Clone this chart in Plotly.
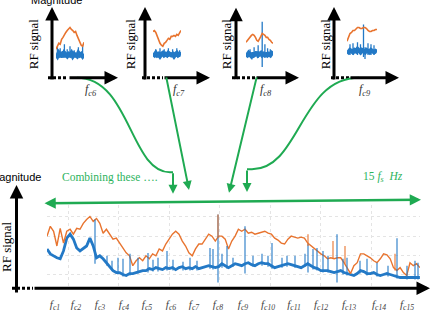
import plotly.graph_objects as go

W, H = 432, 312
ORANGE = '#E8742F'
BLUE = '#2379C6'
GREEN = '#1FAA52'
GREEN_TXT = '#2DB35D'

# ---------------- main spectrum (15 sub-bands), arbitrary magnitude units
main_step = 3.3  # frequency-bin spacing
orange_main = [60, 70, 65, 50, 68, 53, 65, 67, 62, 68,
               67, 73, 77, 80, 75, 78, 73, 63, 67, 62,
               57, 58, 53, 48, 43, 40, 30, 35, 38, 35,
               40, 37, 42, 40, 47, 45, 52, 57, 62, 65,
               62, 55, 50, 43, 40, 47, 52, 52, 57, 62,
               60, 55, 60, 60, 57, 47, 55, 60, 67, 65,
               67, 63, 64, 62, 63, 64, 65, 63, 62, 58,
               56, 53, 52, 57, 60, 59, 58, 59, 58, 53,
               50, 47, 45, 42, 40, 37, 38, 37, 38, 38,
               33, 28, 22, 30, 33, 42, 42, 40, 38, 35,
               33, 37, 42, 41, 37, 28, 25, 28, 23, 20,
               33, 30, 32, 28]
blue_main = [47, 42, 40, 38, 37, 45, 58, 62, 57, 48,
             45, 48, 50, 58, 50, 38, 40, 37, 33, 28,
             25, 23, 23, 21, 20, 22, 22, 23, 24, 25,
             25, 27, 26, 28, 27, 26, 28, 27, 28, 26,
             28, 29, 27, 28, 27, 29, 27, 28, 29, 30,
             29, 28, 29, 32, 30, 28, 30, 32, 31, 30,
             32, 33, 31, 30, 32, 33, 32, 32, 30, 28,
             29, 30, 31, 32, 31, 30, 29, 28, 30, 32,
             30, 28, 27, 25, 25, 25, 24, 23, 24, 25,
             23, 22, 21, 20, 22, 25, 24, 22, 22, 23,
             21, 20, 21, 22, 21, 20, 19, 18, 18, 18,
             18, 18, 18, 18]
blue_spike_f = [48, 60, 65, 71, 76, 83, 91, 101, 106, 111, 120, 126, 136, 143, 150,
                163, 166, 171, 175, 180, 186, 198, 206, 215, 221, 225, 235, 240, 248,
                258, 261, 266, 270, 276, 281, 290, 296, 300, 313, 320, 330, 341, 350,
                360, 368, 371]
blue_spike_top = [77, 40, 35, 38, 37, 42, 38, 43, 36, 38, 45, 36, 34, 38, 35,
                  48, 47, 82, 42, 50, 38, 70, 40, 42, 40, 53, 38, 40, 40,
                  42, 52, 47, 48, 45, 40, 62, 37, 38, 35, 37, 33, 30, 58,
                  30, 35, 33]
blue_spike_bot = [32, 30, 25, 21, 19, 20, 22, 23, 24, 24, 25, 25, 25, 25, 25,
                  27, 26, 13, 28, 27, 29, 22, 29, 30, 29, 27, 28, 29, 28,
                  29, 23, 26, 25, 23, 23, 13, 21, 20, 22, 20, 19, 19, 17,
                  16, 16, 16]
orange_spike_f = [171, 261, 286, 298, 348]
orange_spike_top = [82, 62, 55, 50, 42]
orange_spike_bot = [58, 50, 37, 32, 25]

fc_labels = ['c1', 'c2', 'c3', 'c4', 'c5', 'c6', 'c7', 'c8', 'c9', 'c10',
             'c11', 'c12', 'c13', 'c14', 'c15']
fc_pos = [8, 29, 53, 77, 100, 124, 147, 171, 196, 221, 247, 274, 302, 332, 360]
grid_f = [21, 71.5, 122, 172.5, 223, 273.5, 324, 374]
grid_mag = [21, 40.5, 60, 79.5]

# ---------------- zoomed sub-band insets (fc6 .. fc9)
fc6_orange = [20, 24, 26, 25, 30, 32, 35, 37, 39, 41, 42, 40, 39, 37, 38, 34, 31, 27, 24, 23, 27]
fc6_blue = [15, 13, 16, 14, 15, 12, 16, 14, 13, 15, 14, 16, 13, 15, 14, 13, 16, 14, 15, 13, 15]
fc6_spk_i = [1, 3, 6, 8, 10, 13, 16, 19]
fc6_spk_top = [22, 21, 25, 20, 23, 19, 22, 24]
fc6_spk_bot = [12, 12, 12, 12, 12, 12, 12, 12]

fc7_orange = [38, 39, 37, 33, 29, 26, 24, 23, 26, 27, 29, 31, 30, 33, 33, 34, 33, 35, 34, 36, 39]
fc7_blue = [15, 14, 16, 14, 15, 13, 15, 16, 14, 15, 14, 16, 15, 14, 15, 13, 15, 16, 14, 15, 14]
fc7_spk_i = [2, 5, 8, 11, 14, 17, 19]
fc7_spk_top = [20, 21, 20, 21, 20, 21, 19]
fc7_spk_bot = [12, 12, 12, 12, 12, 12, 12]

fc8_orange = [27, 29, 31, 32, 34, 35, 34, 32, 29, 28, 30, 33, 36, 35, 34, 32, 32, 30, 29, 27, 26]
fc8_blue = [15, 14, 16, 15, 13, 16, 14, 15, 17, 14, 15, 16, 14, 15, 13, 16, 14, 15, 14, 16, 15]
fc8_spk_i = [3, 6, 9, 12, 14, 16, 18]
fc8_spk_top = [20, 22, 24, 48, 25, 21, 20]
fc8_spk_bot = [12, 12, 11, 2, 11, 12, 12]

fc9_orange = [28, 33, 36, 37, 39, 39, 41, 42, 42, 41, 41, 42, 42, 41, 39, 38, 38, 39, 39, 40, 40]
fc9_blue = [18, 17, 19, 18, 17, 19, 18, 20, 18, 17, 19, 18, 17, 19, 18, 17, 19, 18, 17, 18, 17]
fc9_spk_i = [2, 4, 7, 9, 11, 12, 14, 16, 18]
fc9_spk_top = [25, 26, 27, 25, 45, 22, 26, 25, 24]
fc9_spk_bot = [14, 14, 14, 14, 12, 10, 14, 14, 14]


def px(x):
    return x / W


def py(y):
    return 1 - y / H


def spikes(xs, tops, bots):
    sx, sy = [], []
    for x, t, b in zip(xs, tops, bots):
        sx += [x, x, None]
        sy += [b, t, None]
    return sx, sy


fig = go.Figure()

# main chart traces
f_main = [i * main_step for i in range(len(orange_main))]
fig.add_trace(go.Scatter(x=f_main, y=blue_main, mode='lines',
                         line=dict(color=BLUE, width=2.8), xaxis='x', yaxis='y'))
fig.add_trace(go.Scatter(x=f_main, y=orange_main, mode='lines',
                         line=dict(color=ORANGE, width=1.4), xaxis='x', yaxis='y'))
sx, sy = spikes(blue_spike_f, blue_spike_top, blue_spike_bot)
fig.add_trace(go.Scatter(x=sx, y=sy, mode='lines', line=dict(color=BLUE, width=1.1),
                         xaxis='x', yaxis='y'))
sx, sy = spikes(orange_spike_f, orange_spike_top, orange_spike_bot)
fig.add_trace(go.Scatter(x=sx, y=sy, mode='lines', line=dict(color=ORANGE, width=1.1),
                         xaxis='x', yaxis='y'))

insets = [
    (fc6_orange, fc6_blue, fc6_spk_i, fc6_spk_top, fc6_spk_bot, (56, 84)),
    (fc7_orange, fc7_blue, fc7_spk_i, fc7_spk_top, fc7_spk_bot, (153, 181)),
    (fc8_orange, fc8_blue, fc8_spk_i, fc8_spk_top, fc8_spk_bot, (246, 273)),
    (fc9_orange, fc9_blue, fc9_spk_i, fc9_spk_top, fc9_spk_bot, (347, 377)),
]

layout_axes = {}
for k, (o, b, si, st, sb, (l, r)) in enumerate(insets):
    n = k + 2
    xa, ya = f'x{n}', f'y{n}'
    idx = list(range(len(o)))
    fig.add_trace(go.Scatter(x=idx, y=b, mode='lines', line=dict(color=BLUE, width=4.5),
                             xaxis=xa, yaxis=ya))
    sx, sy = spikes(si, st, sb)
    fig.add_trace(go.Scatter(x=sx, y=sy, mode='lines', line=dict(color=BLUE, width=1.3),
                             xaxis=xa, yaxis=ya))
    fig.add_trace(go.Scatter(x=idx, y=o, mode='lines', line=dict(color=ORANGE, width=1.6),
                             xaxis=xa, yaxis=ya))
    layout_axes[f'xaxis{n}'] = dict(domain=[px(l), px(r)], range=[0, len(o) - 1], visible=False,
                                    anchor=ya, fixedrange=True)
    layout_axes[f'yaxis{n}'] = dict(domain=[py(72), py(15)], range=[-2, 55], visible=False,
                                    anchor=xa, fixedrange=True)

shapes = []
annotations = []


def arrow(tip, tail, color='black', width=3, side='end', size=0.9):
    annotations.append(dict(x=px(tip[0]), y=py(tip[1]), xref='paper', yref='paper',
                            ax=tail[0] - tip[0], ay=tail[1] - tip[1], text='',
                            showarrow=True, arrowhead=2, arrowsize=size, arrowwidth=width,
                            arrowcolor=color, arrowside=side, standoff=0, startstandoff=0))


def seg(p0, p1, color='black', width=3, dash='solid'):
    shapes.append(dict(type='line', xref='paper', yref='paper',
                       x0=px(p0[0]), y0=py(p0[1]), x1=px(p1[0]), y1=py(p1[1]),
                       line=dict(color=color, width=width, dash=dash)))


def text(s, x, y, size=12, color='black', family='Liberation Serif', angle=0,
         xanchor='center', yanchor='middle'):
    annotations.append(dict(x=px(x), y=py(y), xref='paper', yref='paper', text=s,
                            showarrow=False, textangle=angle, xanchor=xanchor,
                            yanchor=yanchor, font=dict(size=size, color=color, family=family)))


# inset axes (black arrows)
inset_axes = [(52, 7, 118, 48, 68, 33, 91, 'c6'),
              (145, 7, 210, 142, 163, 130, 179, 'c7'),
              (236, 8, 299, 232, 255, 226, 266, 'c8'),
              (334, 7, 399, 331, 349, 325, 365, 'c9')]
for (yx, ytip, xtip, dl, dr, rfx, fcx, lab) in inset_axes:
    arrow((yx, ytip), (yx, 81))
    arrow((xtip, 79), (dr, 79))
    seg((dl, 79), (dr, 79), dash='3px,2px')
    text('RF signal', rfx, 45, size=13, angle=-90)
    text(f'<i>f<sub>{lab}</sub></i>', fcx, 91, size=12, color='#333333')

text('Magnitude', 56, 0, size=11, family='Liberation Sans')

# main axes
arrow((16.5, 188), (16.5, 297))
arrow((430, 293), (33, 293))
seg((12, 293), (33, 293), dash='3px,2px')
text('RF signal', 7, 251, size=13, angle=-90)
text('Magnitude', 43, 180, size=11, family='Liberation Sans', xanchor='right')

# green annotations
text('Combining these \u2026.', 110, 180, size=11.5, color=GREEN_TXT)
text('15 <i>f<sub>s</sub></i>  <i>Hz</i>', 383, 180, size=11.5, color=GREEN_TXT)
arrow((421, 203), (43, 206.5), color=GREEN, width=2.5, side='end+start', size=0.9)


def P(x, y):
    return f'{px(x):.5f},{py(y):.5f}'


shapes.append(dict(type='path', xref='paper', yref='paper',
                   path=f'M {P(77, 79)} C {P(130, 79)} {P(130, 175)} {P(170, 175)} L {P(173, 175)}',
                   line=dict(color=GREEN, width=2)))
arrow((173, 197), (173, 175), color=GREEN, width=2)
arrow((189, 193), (166, 79), color=GREEN, width=2)
arrow((229, 196), (257, 79), color=GREEN, width=2)
shapes.append(dict(type='path', xref='paper', yref='paper',
                   path=f'M {P(359, 79)} C {P(300, 79)} {P(300, 172)} {P(252, 172)} L {P(247, 172)}',
                   line=dict(color=GREEN, width=2)))
arrow((247, 195), (247, 172), color=GREEN, width=2)

fig.update_layout(
    width=W, height=H, autosize=False,
    margin=dict(l=0, r=0, t=0, b=0),
    paper_bgcolor='white', plot_bgcolor='white',
    showlegend=False,
    xaxis=dict(domain=[px(47), px(420)], range=[0, 373], anchor='y',
               tickmode='array', tickvals=fc_pos,
               ticktext=[f'<i>f<sub>{t}</sub></i>' for t in fc_labels],
               tickfont=dict(family='Liberation Serif', size=11, color='#444444'),
               ticks='outside', ticklen=6, tickcolor='rgba(0,0,0,0)',
               showgrid=False, showline=False, zeroline=False,
               minor=dict(tickmode='array', tickvals=grid_f, showgrid=True,
                          gridcolor='#e4e4e4', griddash='dot', gridwidth=1),
               fixedrange=True),
    yaxis=dict(domain=[py(292), py(208)], range=[8, 92], anchor='x',
               tickmode='array', tickvals=grid_mag, showticklabels=False,
               showgrid=True, gridcolor='#e4e4e4', griddash='dot', gridwidth=1,
               zeroline=False, showline=False, fixedrange=True),
    shapes=shapes, annotations=annotations,
    **layout_axes,
)

fig.write_html('out.html')
